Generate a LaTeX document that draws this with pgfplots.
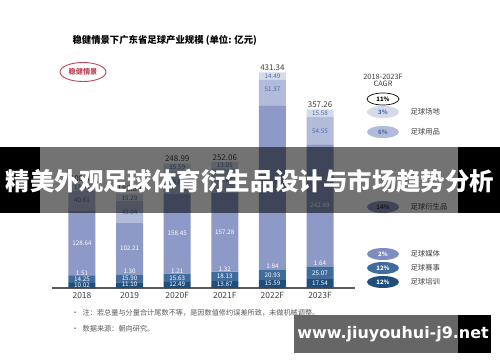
\documentclass[border=0pt]{standalone}
\usepackage{pgfplots}
\pgfplotsset{compat=1.18}
\usepackage{pgfplotstable}
\usepackage{fontspec}
\setmainfont{Noto Sans CJK SC}
\newfontfamily\webfont{DejaVu Sans}
\definecolor{cTrain}{HTML}{1F4E7D}
\definecolor{cEvent}{HTML}{3F6B9D}
\definecolor{cMedia}{HTML}{7E8DBF}
\definecolor{cDeriv}{HTML}{8D99C6}
\definecolor{cGoods}{HTML}{B2BBD9}
\definecolor{cVenue}{HTML}{D5DAEB}
\definecolor{cLab}{HTML}{4A6AA5}
\definecolor{cTxt}{HTML}{404040}
\definecolor{cRed}{HTML}{B94A5A}

\pgfplotstableread{
x T E M D G V
0 10.02 14.25 1.51 128.64 40.61 13.44
1 11.10 15.90 1.30 102.21 43.04 15.29
2 12.49 15.63 1.21 158.45 45.62 15.59
3 13.87 18.13 1.32 157.28 48.41 13.05
4 15.59 20.93 1.84 327.12 51.37 14.49
5 17.54 25.07 1.64 242.89 54.55 15.58
}\barsdata

\pgfplotstableread{
x y lab
0 6.0 10.02
0 17.1 14.25
0 30.3 1.51
0 90.1 128.64
1 6.5 11.10
1 19.0 15.90
1 32.8 1.30
1 79.4 102.21
2 7.2 12.49
2 20.3 15.63
2 33.8 1.21
2 108.6 158.45
3 7.9 13.87
3 22.9 18.13
3 37.8 1.32
3 112.0 157.28
4 8.8 15.59
4 26.1 20.93
4 42.9 1.84
4 201.9 327.12
5 9.8 17.54
5 30.1 25.07
5 48.8 1.64
5 165.7 242.89
}\whitelabels

\pgfplotstableread{
x y lab
0 174.7 40.61
0 200.8 13.44
1 152.0 43.04
1 180.2 15.29
2 210.6 45.62
2 241.2 15.59
3 214.8 48.41
3 245.5 13.05
4 398.0 51.37
4 424.1 14.49
5 314.4 54.55
5 349.5 15.58
}\bluelabels

\pgfplotstableread{
x y lab
0 208.47 208.47
1 188.84 188.84
2 248.99 248.99
3 252.06 252.06
4 431.34 431.34
5 357.27 357.26
}\totals

\begin{document}
\begin{tikzpicture}[x=1bp,y=1bp]
\path[use as bounding box] (0,0) rectangle (500,362);
\fill[white] (0,0) rectangle (500,362);

\begin{axis}[
  at={(52bp,74bp)}, anchor=south west, scale only axis,
  width=303bp, height=220bp,
  xmin=-0.63, xmax=5.735, ymin=0, ymax=440,
  ybar stacked, bar width=27bp,
  axis y line=none, axis x line*=bottom,
  x axis line style={-, draw=black!65, line width=1.1bp},
  ytick=\empty,
  xtick={0,1,2,3,4,5},
  xticklabels={2018,2019,2020F,2021F,2022F,2023F},
  major tick length=0pt,
  xticklabel style={font=\fontsize{8.5}{10}\selectfont, text=cTxt, yshift=-1bp},
  /pgf/number format/assume math mode=true,
  clip=false,
]
\addplot[fill=cTrain, draw=none] table[x=x,y=T]{\barsdata};
\addplot[fill=cEvent, draw=none] table[x=x,y=E]{\barsdata};
\addplot[fill=cMedia, draw=none] table[x=x,y=M]{\barsdata};
\addplot[fill=cDeriv, draw=none] table[x=x,y=D]{\barsdata};
\addplot[fill=cGoods, draw=none] table[x=x,y=G]{\barsdata};
\addplot[fill=cVenue, draw=none] table[x=x,y=V]{\barsdata};
\end{axis}

\begin{axis}[
  at={(52bp,74bp)}, anchor=south west, scale only axis,
  width=303bp, height=220bp,
  xmin=-0.63, xmax=5.735, ymin=0, ymax=440,
  hide axis, clip=false,
]
\addplot[draw=none, mark=none, nodes near coords, point meta=explicit symbolic,
  every node near coord/.append style={anchor=center, text=white, font=\fontsize{6.3}{7}\selectfont, inner sep=0pt}]
  table[x=x,y=y,meta=lab]{\whitelabels};
\addplot[draw=none, mark=none, nodes near coords, point meta=explicit symbolic,
  every node near coord/.append style={anchor=center, text=cLab, font=\fontsize{6.3}{7}\selectfont, inner sep=0pt}]
  table[x=x,y=y,meta=lab]{\bluelabels};
\addplot[draw=none, mark=none, nodes near coords, point meta=explicit symbolic,
  every node near coord/.append style={anchor=south, text=cTxt, font=\fontsize{8}{9}\selectfont, inner sep=1.5pt}]
  table[x=x,y=y,meta=lab]{\totals};
\end{axis}

% title
\node[anchor=west, font=\fontsize{9.4}{11}\selectfont\bfseries] at (69,322) {稳健情景下广东省足球产业规模 (单位: 亿元)};
\draw[cRed, line width=0.9bp] (83,290) ellipse [x radius=23, y radius=9.5];
\node[text=cRed, font=\fontsize{7.2}{8}\selectfont\bfseries] at (83,290) {稳健情景};

% CAGR legend
\node[text=cTxt, font=\fontsize{7.4}{8}\selectfont, align=center] at (383,282) {2018-2023F\\[-1pt]CAGR};
\draw[black, line width=0.7bp, fill=white] (383,263) ellipse [x radius=16, y radius=6];
\node[font=\fontsize{6}{7}\selectfont\bfseries] at (383,263) {11\%};
\fill[cVenue] (383,250) ellipse [x radius=16, y radius=6];
\node[text=cLab, font=\fontsize{6}{7}\selectfont\bfseries] at (383,250) {3\%};
\fill[cGoods] (383,230) ellipse [x radius=16, y radius=6];
\node[text=cLab, font=\fontsize{6}{7}\selectfont\bfseries] at (383,230) {6\%};
\fill[cDeriv] (383,155) ellipse [x radius=16, y radius=6];
\node[text=cTxt, font=\fontsize{6}{7}\selectfont\bfseries] at (383,155) {14\%};
\fill[cMedia] (383,108) ellipse [x radius=16, y radius=6];
\node[text=white, font=\fontsize{6}{7}\selectfont\bfseries] at (383,108) {2\%};
\fill[cEvent] (383,94) ellipse [x radius=16, y radius=6];
\node[text=white, font=\fontsize{6}{7}\selectfont\bfseries] at (383,94) {12\%};
\fill[cTrain] (383,80) ellipse [x radius=16, y radius=6];
\node[text=white, font=\fontsize{6}{7}\selectfont\bfseries] at (383,80) {12\%};
\foreach \yy/\tt in {250/足球场地, 230/足球用品, 155/足球衍生品, 108/足球媒体, 94/足球赛事, 80/足球培训}
  \node[anchor=west, text=cTxt, font=\fontsize{7.4}{8}\selectfont] at (407,\yy) {\tt};

% footnotes
\node[anchor=west, text=black!65, font=\fontsize{7.2}{8}\selectfont] at (68,49) {•\hspace{4bp}注：若总量与分量合计尾数不等，是因数值修约误差所致，未做机械调整。};
\node[anchor=west, text=black!65, font=\fontsize{7.2}{8}\selectfont] at (68,33) {•\hspace{4bp}数据来源：朝向研究。};

% overlay band
\fill[black, opacity=0.55] (40,149) rectangle (458,215);
\fill[black] (0,149) rectangle (40,215);
\fill[black] (458,149) rectangle (500,215);
\node[text=white, font=\fontsize{24.5}{26}\selectfont\bfseries] at (250,181) {精美外观足球体育衍生品设计与市场趋势分析};

% website box
\fill[black!60] (294,9) rectangle (458,47);
\fill[black] (458,9) rectangle (491,47);
\node[text=white, font=\webfont\bfseries\fontsize{16}{18}\selectfont] at (393,28) {www.jiuyouhui-j9.net};
\end{tikzpicture}
\end{document}
